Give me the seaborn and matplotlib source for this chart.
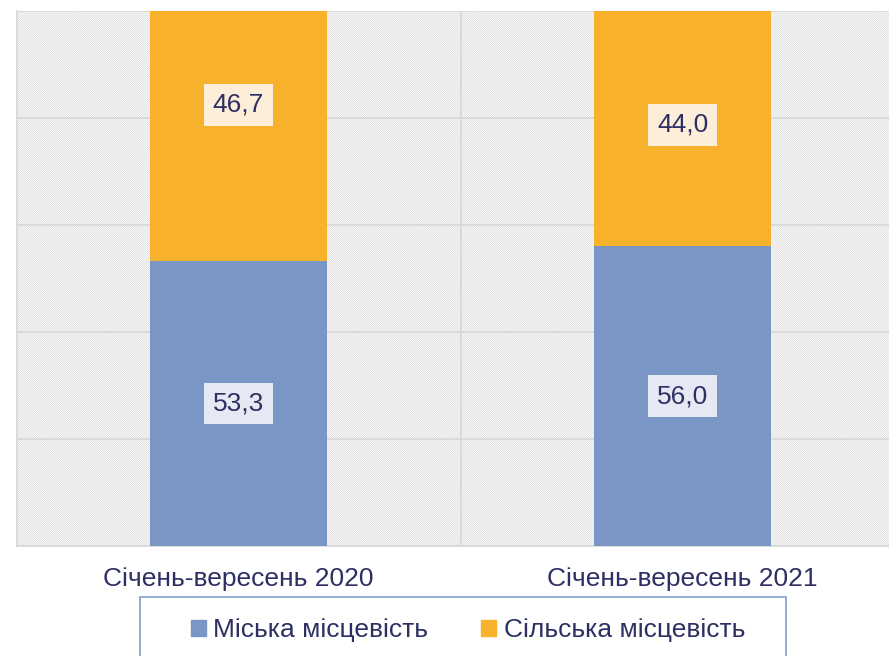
import matplotlib
matplotlib.use("Agg")
import matplotlib.pyplot as plt
import seaborn as sns
import pandas as pd
from matplotlib.patches import Patch, Rectangle

# Data
periods = ["Січень-вересень 2020", "Січень-вересень 2021"]
urban = [53.3, 56.0]
rural = [46.7, 44.0]
series_names = ["Міська місцевість", "Сільська місцевість"]

blue = "#7A96C4"
orange = "#F7B12A"
txt = "#2E3063"
grid = "#D9D9D9"

sns.set_theme(style="white")
plt.rcParams["font.family"] = ["Liberation Sans", "DejaVu Sans"]
plt.rcParams["hatch.color"] = "#D6D6D6"
plt.rcParams["hatch.linewidth"] = 0.45

df = pd.DataFrame({"period": periods, "urban": urban, "rural": rural})
df["total"] = df["urban"] + df["rural"]

fig = plt.figure(figsize=(8.89, 6.56), dpi=100)
ax = fig.add_axes([16.5 / 889, 110 / 656, 888 / 889, 535 / 656])
ax.set_facecolor("white")
ax.patch.set_hatch("\\" * 16)
ax.patch.set_edgecolor("#D6D6D6")
ax.patch.set_linewidth(0)

# stacked: total (orange) first, then urban (blue) on top of it
sns.barplot(data=df, x="period", y="total", color=orange, width=0.4,
            saturation=1, linewidth=0, ax=ax, zorder=3)
sns.barplot(data=df, x="period", y="urban", color=blue, width=0.4,
            saturation=1, linewidth=0, ax=ax, zorder=4)

ax.set_xlim(-0.5, 1.5)
ax.set_ylim(0, 100)
ax.set_yticks(range(0, 101, 20))
ax.set_yticklabels([])
ax.yaxis.grid(True, color=grid, lw=1.3, zorder=1)
ax.set_axisbelow(True)
ax.set_xlabel("")
ax.set_ylabel("")
for s in ["top", "right"]:
    ax.spines[s].set_visible(False)
for s in ["left", "bottom"]:
    ax.spines[s].set_color(grid)
    ax.spines[s].set_linewidth(1.3)

ax.tick_params(axis="x", which="major", length=0, pad=15, labelsize=19, labelcolor=txt)
ax.tick_params(axis="y", length=0)
ax.set_xticks([0.5], minor=True)
ax.tick_params(axis="x", which="minor", length=6, color=grid, width=1.3)
ax.axvline(0.5, color=grid, lw=1.3, zorder=1)

# value labels
rural_nudge = [5.8, 0.7]
for i in range(len(periods)):
    ax.text(i, urban[i] / 2, f"{urban[i]:.1f}".replace(".", ","), ha="center", va="center",
            fontsize=19, color=txt, zorder=6,
            bbox=dict(boxstyle="square,pad=0.33", fc="#E6E9F4", ec="none"))
    ax.text(i, urban[i] + rural[i] / 2 + rural_nudge[i], f"{rural[i]:.1f}".replace(".", ","),
            ha="center", va="center", fontsize=19, color=txt, zorder=6,
            bbox=dict(boxstyle="square,pad=0.33", fc="#FDEED9", ec="none"))

# legend box
fig.patches.append(Rectangle((140 / 889, -0.05), 646 / 889, 0.05 + 59 / 656,
                             transform=fig.transFigure, fc="white",
                             ec="#8FA6D0", lw=1.3))
handles = [Patch(color=blue), Patch(color=orange)]
fig.legend(handles, series_names, loc="center", bbox_to_anchor=(468 / 889, 26 / 656),
           ncol=2, frameon=False, fontsize=19, labelcolor=txt,
           handlelength=0.55, handleheight=0.55, handletextpad=0.3, columnspacing=2.0)

fig.savefig("out.png", dpi=100)
